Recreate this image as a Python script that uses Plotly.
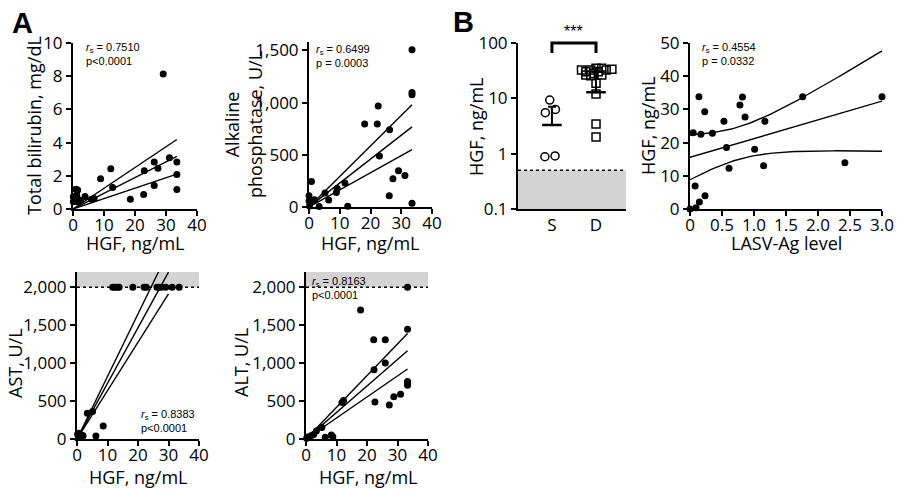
import numpy as np
import plotly.graph_objects as go

W, H = 900, 489

# ---------------- data ----------------
# Panel A: HGF (ng/mL) vs liver markers
bili_hgf = [0.1, 0.1, 0.9, 1.5, 1.2, 1.4, 2.4, 3.9, 6.0, 6.8, 8.9, 12.2, 12.8, 18.5,
            22.8, 23.0, 26.2, 26.2, 27.4, 29.1, 31.1, 33.5, 33.5, 33.5]
bili_val = [0.74, 0.44, 1.19, 1.15, 0.84, 0.44, 0.52, 0.76, 0.58, 0.64, 1.82, 2.42, 1.3, 0.58,
            0.88, 2.3, 1.42, 2.83, 2.46, 8.14, 3.09, 2.83, 2.08, 1.18]
bili_slopes = [0.0946, 0.0627, 0.125]      # fit, lower CI, upper CI (through origin)
bili_fit_xmax = 33.5

alp_hgf = [0, 0, 0.2, 0.8, 1.8, 3.3, 5.2, 6.4, 8.9, 9.2, 11.7, 12.6, 18.1, 22.2, 22.5,
           22.9, 26.2, 26.1, 27.3, 29.1, 31.2, 33.5, 33.5, 33.5, 33.5]
alp_val = [108, 57, 10, 245, 70, 5, 133, 67, 140, 178, 229, 8, 794, 794, 966,
           489, 740, 108, 270, 346, 302, 1506, 1096, 1074, 35]
alp_slopes = [22.9, 16.4, 29.2]
alp_fit_xmax = 33.5

ast_hgf = [0.2, 0.65, 0.9, 1.7, 2.0, 3.4, 5.1, 6.2, 8.6, 11.7, 12.3, 13.1, 13.8, 18.3,
           22.0, 22.7, 26.2, 26.8, 27.7, 29.1, 31.2, 33.5]
ast_val = [62, 75, 30, 45, 44, 340, 361, 40, 172, 2000, 2000, 2000, 2000, 2000,
           2000, 2000, 2000, 2000, 2000, 2000, 2000, 2000]
ast_slopes = [73.3, 63.7, 82.4]
ast_fit_xmax = 30.0

alt_hgf = [0.2, 0.6, 1.2, 1.8, 2.5, 3.4, 5.2, 6.3, 8.3, 8.8, 11.8, 12.3, 17.9, 22.2, 22.3,
           22.6, 26.0, 26.0, 27.3, 28.8, 31.0, 33.3, 33.3, 33.3, 33.3, 33.3]
alt_val = [10, 25, 30, 45, 60, 106, 150, 22, 53, 30, 480, 506, 1700, 1308, 912,
           489, 1308, 1000, 449, 555, 590, 2000, 1445, 758, 736, 709]
alt_slopes = [34.9, 27.7, 41.7]
alt_fit_xmax = 33.3

upper_limit = 2000   # assay upper limit (U/L)

# Panel B left: survivors vs died
grp_labels = ["S", "D"]
surv_hgf = [9.3, 5.5, 6.3, 0.88, 0.91]
surv_jit = [-0.05, -0.15, 0.08, -0.16, 0.07]
died_hgf = [32.5, 30.3, 32.5, 34.9, 34.9, 32.5, 33.5, 26.4, 25.7, 26.4, 30.3, 28.0, 18.7, 12.0, 3.44, 2.0]
died_jit = [-0.33, -0.23, -0.12, 0, 0.13, 0.23, 0.36, -0.23, -0.12, 0.13, 0.05, -0.05, 0, 0, 0, 0]
grp_mid = [3.3, 12.9]
grp_top = [7.05, 35.8]
lod = 0.5            # detection limit (ng/mL)

# Panel B right: LASV-Ag level vs HGF
ag_level = [0.0, 0.05, 0.08, 0.094, 0.14, 0.146, 0.17, 0.235, 0.23, 0.35, 0.53, 0.57, 0.61,
            0.78, 0.82, 0.86, 1.01, 1.15, 1.17, 1.76, 2.42, 3.0]
ag_hgf = [0.0, 23.0, 6.9, 0.4, 33.8, 2.1, 22.5, 4.0, 29.3, 22.8, 26.4, 18.5, 12.3,
          31.3, 33.7, 27.7, 18.0, 13.0, 26.4, 33.8, 13.9, 33.8]
t_crit = 2.086       # t(0.975, df=20)

stats = {
    "bili": ("0.7510", "p&lt;0.0001"),
    "alp": ("0.6499", "p = 0.0003"),
    "ast": ("0.8383", "p&lt;0.0001"),
    "alt": ("0.8163", "p&lt;0.0001"),
    "ag": ("0.4554", "p = 0.0332"),
}

# ---------------- layout helpers ----------------
def px(x):
    return x / W

def py(y):
    return 1 - y / H

TICKFONT = dict(family="Open Sans", size=17, color="black")
TITLEFONT = dict(family="Open Sans", size=18, color="black")
STATFONT = dict(family="Liberation Sans", size=11, color="black")

fig = go.Figure()

def axis_common(**kw):
    d = dict(showline=True, linecolor="black", linewidth=2, ticks="outside",
             ticklen=5, tickwidth=2, tickcolor="black", showgrid=False,
             zeroline=False, tickfont=TICKFONT, fixedrange=True, automargin=False)
    d.update(kw)
    return d

panels = {
    1: dict(x=(73, 197), y=(43, 209)),
    2: dict(x=(309, 432), y=(42, 207)),
    3: dict(x=(77, 199), y=(272, 439)),
    4: dict(x=(306, 428), y=(272, 439)),
    5: dict(x=(518, 626), y=(43, 209)),
    6: dict(x=(690, 882), y=(43, 209)),
}

layout_axes = {}
for i, p in panels.items():
    xn = "xaxis" if i == 1 else f"xaxis{i}"
    yn = "yaxis" if i == 1 else f"yaxis{i}"
    layout_axes[xn] = dict(domain=[px(p["x"][0]), px(p["x"][1])], anchor="y" if i == 1 else f"y{i}")
    layout_axes[yn] = dict(domain=[py(p["y"][1]), py(p["y"][0])], anchor="x" if i == 1 else f"x{i}")

XSTAND = -5
hgf_x = axis_common(range=[0, 40], tickvals=[0, 10, 20, 30, 40], ticklabelstandoff=XSTAND)
layout_axes["xaxis"].update(hgf_x)
layout_axes["xaxis2"].update(hgf_x)
layout_axes["xaxis3"].update(hgf_x)
layout_axes["xaxis4"].update(hgf_x)
layout_axes["yaxis"].update(axis_common(range=[0, 10], tickvals=[0, 2, 4, 6, 8, 10]))
layout_axes["yaxis2"].update(axis_common(range=[0, 1580], tickvals=[0, 500, 1000, 1500], tickformat=","))
layout_axes["yaxis3"].update(axis_common(range=[0, 2200], tickvals=[0, 500, 1000, 1500, 2000], tickformat=","))
layout_axes["yaxis4"].update(axis_common(range=[0, 2200], tickvals=[0, 500, 1000, 1500, 2000], tickformat=","))
layout_axes["xaxis5"].update(axis_common(range=[-0.77, 1.68], tickvals=[0, 1], ticktext=grp_labels, ticks="",
                                         ticklabelstandoff=0))
layout_axes["yaxis5"].update(axis_common(type="log", range=[-1, 2], tickvals=[0.1, 1, 10, 100],
                                         ticktext=["0.1", "1", "10", "100"]))
layout_axes["xaxis6"].update(axis_common(range=[0, 3.0], tickvals=[0, 0.5, 1, 1.5, 2, 2.5, 3],
                                         ticktext=["0", "0.5", "1.0", "1.5", "2.0", "2.5", "3.0"],
                                         ticklabelstandoff=XSTAND))
layout_axes["yaxis6"].update(axis_common(range=[0, 50], tickvals=[0, 10, 20, 30, 40, 50]))

def ax_ref(i):
    return ("x" if i == 1 else f"x{i}"), ("y" if i == 1 else f"y{i}")

def scatter_panel(i, xs, ys, slopes, xmax):
    xr, yr = ax_ref(i)
    for s in slopes:
        fx = np.array([0.0, xmax])
        fig.add_trace(go.Scatter(x=fx, y=s * fx, mode="lines", xaxis=xr, yaxis=yr,
                                 line=dict(color="black", width=1.4), hoverinfo="skip",
                                 showlegend=False))
    fig.add_trace(go.Scatter(x=xs, y=ys, mode="markers", xaxis=xr, yaxis=yr,
                             marker=dict(color="black", size=7), cliponaxis=False,
                             showlegend=False))

shapes = []
# gray "above limit" bands in AST/ALT
for i in (3, 4):
    xr, yr = ax_ref(i)
    shapes.append(dict(type="rect", xref=f"{xr} domain", yref=yr, x0=0, x1=1,
                       y0=upper_limit, y1=2200, fillcolor="#d3d3d3", line_width=0, layer="below"))
    shapes.append(dict(type="line", xref=f"{xr} domain", yref=yr, x0=0, x1=1,
                       y0=upper_limit, y1=upper_limit, line=dict(color="black", width=1.5, dash="dot"),
                       layer="below"))

scatter_panel(1, bili_hgf, bili_val, bili_slopes, bili_fit_xmax)
scatter_panel(2, alp_hgf, alp_val, alp_slopes, alp_fit_xmax)
scatter_panel(3, ast_hgf, ast_val, ast_slopes, ast_fit_xmax)
scatter_panel(4, alt_hgf, alt_val, alt_slopes, alt_fit_xmax)

# ---- Panel B left ----
xr5 = layout_axes["xaxis5"]["range"]
fig.add_trace(go.Scatter(x=[xr5[0], xr5[1], xr5[1], xr5[0], xr5[0]], y=[0.1, 0.1, lod, lod, 0.1],
                         mode="lines", fill="toself", fillcolor="#d3d3d3", line=dict(width=0),
                         xaxis="x5", yaxis="y5", hoverinfo="skip", showlegend=False))
fig.add_trace(go.Scatter(x=[xr5[0], xr5[1]], y=[lod, lod], mode="lines",
                         line=dict(color="black", width=1.5, dash="dot"),
                         xaxis="x5", yaxis="y5", hoverinfo="skip", showlegend=False))
fig.add_trace(go.Scatter(x=[0 + j for j in surv_jit], y=surv_hgf, mode="markers", xaxis="x5", yaxis="y5",
                         marker=dict(symbol="circle-open", size=8, color="black", line=dict(width=1.5)),
                         cliponaxis=False, showlegend=False))
fig.add_trace(go.Scatter(x=[1 + j for j in died_jit], y=died_hgf, mode="markers", xaxis="x5", yaxis="y5",
                         marker=dict(symbol="square-open", size=8, color="black", line=dict(width=1.5)),
                         cliponaxis=False, showlegend=False))
fig.add_trace(go.Scatter(x=[0, 1], y=grp_mid, mode="markers", xaxis="x5", yaxis="y5",
                         marker=dict(symbol="line-ew-open", size=14, color="black", line=dict(width=2.5)),
                         error_y=dict(type="data", symmetric=False,
                                      array=[t - m for t, m in zip(grp_top, grp_mid)],
                                      arrayminus=[0, 0], thickness=2, width=4, color="black"),
                         cliponaxis=False, showlegend=False))
# significance bracket
shapes.append(dict(type="path", xref="x5", yref="paper",
                   path=f"M 0,{py(53)} L 0,{py(43)} L 1,{py(43)} L 1,{py(53)}",
                   line=dict(color="black", width=3), layer="above"))

# ---- Panel B right ----
ax = np.array(ag_level)
ay = np.array(ag_hgf)
n = len(ax)
slope, intercept = np.polyfit(ax, ay, 1)
resid = ay - (intercept + slope * ax)
s_err = np.sqrt(np.sum(resid ** 2) / (n - 2))
sxx = np.sum((ax - ax.mean()) ** 2)
gx = np.linspace(0, 3.0, 80)
gy = intercept + slope * gx
half = t_crit * s_err * np.sqrt(1 / n + (gx - ax.mean()) ** 2 / sxx)
for yy in (gy, gy - half, gy + half):
    fig.add_trace(go.Scatter(x=gx, y=yy, mode="lines", xaxis="x6", yaxis="y6",
                             line=dict(color="black", width=1.4), hoverinfo="skip", showlegend=False))
fig.add_trace(go.Scatter(x=ag_level, y=ag_hgf, mode="markers", xaxis="x6", yaxis="y6",
                         marker=dict(color="black", size=7), cliponaxis=False, showlegend=False))

# ---------------- annotations ----------------
ann = []

def txt(x, y, text, font, angle=0, xanchor="center", yanchor="middle", align="center"):
    ann.append(dict(x=px(x), y=py(y), xref="paper", yref="paper", text=text, showarrow=False,
                    font=font, textangle=angle, xanchor=xanchor, yanchor=yanchor, align=align))

# panel letters
txt(22, 23, "<b>A</b>", dict(family="Liberation Sans", size=29, color="black"))
txt(463, 22, "<b>B</b>", dict(family="Liberation Sans", size=29, color="black"))

# axis titles
txt(34, 126, "Total bilirubin, mg/dL", TITLEFONT, -90)
txt(243, 125, "Alkaline<br>phosphatase, U/L", TITLEFONT, -90)
txt(15, 363, "AST, U/L", TITLEFONT, -90)
txt(241, 363, "ALT, U/L", TITLEFONT, -90)
txt(476, 127, "HGF, ng/mL", TITLEFONT, -90)
txt(648, 126, "HGF, ng/mL", TITLEFONT, -90)
txt(135, 243, "HGF, ng/mL", TITLEFONT)
txt(370, 243, "HGF, ng/mL", TITLEFONT)
txt(138, 477, "HGF, ng/mL", TITLEFONT)
txt(368, 477, "HGF, ng/mL", TITLEFONT)
txt(786, 243, "LASV-Ag level", TITLEFONT)

# stats
def stat(x, y, key):
    r, p = stats[key]
    txt(x, y, f"<i>r</i><sub>s</sub> = {r}<br>{p}", STATFONT, xanchor="left", yanchor="top", align="left")

stat(84, 39, "bili")
stat(314, 41, "alp")
stat(139, 406, "ast")
stat(310, 273, "alt")
stat(700, 39, "ag")

# significance stars
ann.append(dict(x=0.5, y=py(42), xref="x5", yref="paper", text="***", showarrow=False,
                font=dict(family="Liberation Sans", size=16, color="black"),
                xanchor="center", yanchor="bottom"))

fig.update_layout(
    template="none",
    width=W, height=H, margin=dict(l=0, r=0, t=0, b=0, pad=0),
    paper_bgcolor="white", plot_bgcolor="white",
    showlegend=False, shapes=shapes, annotations=ann,
    **layout_axes,
)

fig.write_html("out.html", config={"displayModeBar": False},
               post_script="document.body.style.margin='0';document.body.style.padding='0';")
